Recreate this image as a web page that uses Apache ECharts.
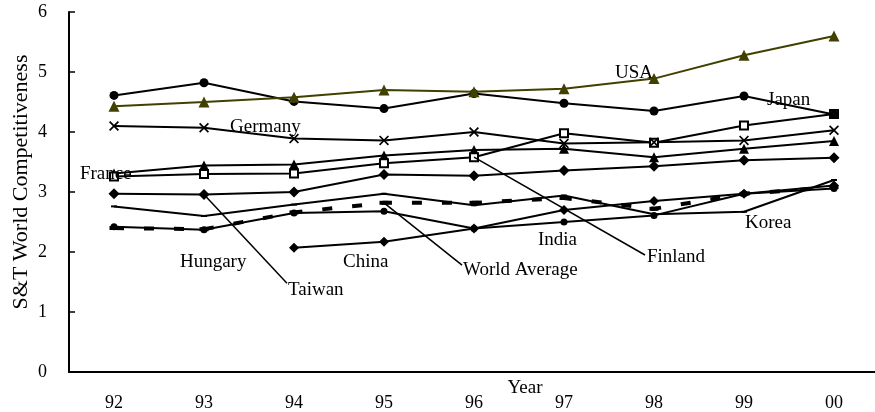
<!DOCTYPE html>
<html><head><meta charset="utf-8">
<script src="https://cdn.jsdelivr.net/npm/echarts@6/dist/echarts.min.js"></script>
<style>html,body{margin:0;padding:0;background:#fff}#c{width:875px;height:412px}</style>
</head><body><div id="c"></div>
<script>
// ---- data ----
const years   = ['92','93','94','95','96','97','98','99','00'];
const usa     = [4.43, 4.50, 4.58, 4.70, 4.67, 4.72, 4.89, 5.28, 5.60];
const japan   = [4.61, 4.82, 4.51, 4.39, 4.64, 4.48, 4.35, 4.60, 4.29];
const germany = [4.10, 4.07, 3.89, 3.86, 4.00, 3.81, 3.83, 3.86, 4.03];
const finland = [3.26, 3.30, 3.31, 3.48, 3.58, 3.98, 3.82, 4.11, 4.30];
const france  = [3.31, 3.44, 3.46, 3.61, 3.70, 3.72, 3.58, 3.72, 3.85];
const taiwan  = [2.97, 2.96, 3.00, 3.29, 3.27, 3.36, 3.43, 3.53, 3.57];
const korea   = [2.76, 2.60, 2.79, 2.97, 2.78, 2.94, 2.63, 2.67, 3.20];
const worldAvg= [2.40, 2.38, 2.66, 2.82, 2.82, 2.90, 2.72, 2.97, 3.08];
const india   = [2.42, 2.37, 2.65, 2.68, 2.39, 2.50, 2.61, 2.97, 3.06];
const china   = [null, null, 2.07, 2.17, 2.39, 2.70, 2.85, 2.97, 3.11];
const yTicks  = [0, 6, 1];

const FONT = 'Liberation Serif';
const chart = echarts.init(document.getElementById('c'));

const crossPath = 'path://M0,1.2L1.2,0L5,3.8L8.8,0L10,1.2L6.2,5L10,8.8L8.8,10L5,6.2L1.2,10L0,8.8L3.8,5Z';

function mk(name, data, symbol, size, opts) {
  opts = opts || {};
  return {
    name, type: 'line', data,
    symbol, symbolSize: size,
    showSymbol: symbol !== 'none',
    connectNulls: false,
    lineStyle: Object.assign({ color: opts.color || '#000', width: 2 }, opts.line || {}),
    itemStyle: Object.assign({ color: opts.color || '#000', borderColor: opts.color || '#000', borderWidth: 0 }, opts.item || {}),
    emphasis: { disabled: true },
    animation: false,
    z: opts.z || 2
  };
}

const option = {
  backgroundColor: '#fff',
  animation: false,
  grid: { left: 69, top: 12, width: 810, height: 360, containLabel: false, outerBoundsMode: 'none' },
  xAxis: {
    type: 'category', data: years, boundaryGap: true,
    axisLine: { lineStyle: { color: '#000', width: 2 } },
    axisTick: { inside: true, length: 6, lineStyle: { color: '#000', width: 1.5 } },
    axisLabel: { color: '#000', fontFamily: FONT, fontSize: 18, margin: 22 },
    splitLine: { show: false },
    name: 'Year', nameLocation: 'middle', nameGap: 7, nameMoveOverlap: false,
    nameTextStyle: { color: '#000', fontFamily: FONT, fontSize: 19, verticalAlign: 'top', padding: [0, 0, 0, 102] }
  },
  yAxis: {
    type: 'value', min: yTicks[0], max: yTicks[1], interval: yTicks[2],
    axisLine: { show: true, lineStyle: { color: '#000', width: 2 } },
    axisTick: { show: true, inside: true, length: 6, lineStyle: { color: '#000', width: 1.5 } },
    axisLabel: { color: '#000', fontFamily: FONT, fontSize: 18, margin: 22 },
    splitLine: { show: false },
    name: 'S&T World Competitiveness', nameLocation: 'middle', nameGap: 37, nameMoveOverlap: false,
    nameTextStyle: { color: '#000', fontFamily: FONT, fontSize: 22, padding: [0, 0, 0, 20] }
  },
  series: [
    mk('Korea', korea, 'rect', [6, 2]),
    mk('India', india, 'circle', 7),
    mk('China', china, 'diamond', 10),
    mk('World Average', worldAvg, 'rect', [9, 4], { line: { width: 4, type: [10, 20] } }),
    mk('Taiwan', taiwan, 'diamond', 11),
    mk('France', france, 'triangle', 10),
    mk('Finland', finland, 'rect', 8, { item: { color: '#fff', borderColor: '#000', borderWidth: 2 } }),
    mk('Germany', germany, crossPath, 10),
    mk('Japan', japan, 'circle', 9),
    mk('USA', usa, 'triangle', 11, { color: '#404000', z: 3 })
  ]
};
chart.setOption(option);

// ---- annotations (label anchors in data space: fractional category index, value) ----
const annotations = [
  { text: 'USA',           at: [5.567, 4.98] },
  { text: 'Japan',         at: [7.256, 4.53] },
  { text: 'Germany',       at: [1.289, 4.08] },
  { text: 'France',        at: [-0.378, 3.30] },
  { text: 'Hungary',       at: [0.733, 1.83] },
  { text: 'Taiwan',        at: [1.933, 1.37] },
  { text: 'China',         at: [2.544, 1.83] },
  { text: 'World Average', at: [3.878, 1.70] },
  { text: 'India',         at: [4.711, 2.20] },
  { text: 'Finland',       at: [5.922, 1.92] },
  { text: 'Korea',         at: [7.011, 2.48] }
];
const leaders = [
  { from: [taiwan, 1],   to: [1.922, 1.48] },
  { from: [worldAvg, 3], to: [3.867, 1.78] },
  { from: [finland, 4],  to: [5.900, 1.95] }
];

function toPx(i, v) {
  const base = Math.min(7, Math.max(0, Math.floor(i)));
  const a = chart.convertToPixel({ gridIndex: 0 }, [base, v]);
  const b = chart.convertToPixel({ gridIndex: 0 }, [base + 1, v]);
  return [a[0] + (i - base) * (b[0] - a[0]), a[1]];
}

const elements = [];
leaders.forEach(l => {
  const p1 = toPx(l.from[1], l.from[0][l.from[1]]);
  const p2 = toPx(l.to[0], l.to[1]);
  elements.push({ type: 'line', z: 50, silent: true,
    shape: { x1: p1[0], y1: p1[1], x2: p2[0], y2: p2[1] },
    style: { stroke: '#000', lineWidth: 1.5 } });
});
annotations.forEach(a => {
  const p = toPx(a.at[0], a.at[1]);
  elements.push({ type: 'text', z: 60, silent: true, x: p[0], y: p[1],
    style: { text: a.text, fill: '#000', font: '19px "' + FONT + '"', align: 'left', verticalAlign: 'middle' } });
});
chart.setOption({ graphic: { elements } });
</script>
</body></html>
